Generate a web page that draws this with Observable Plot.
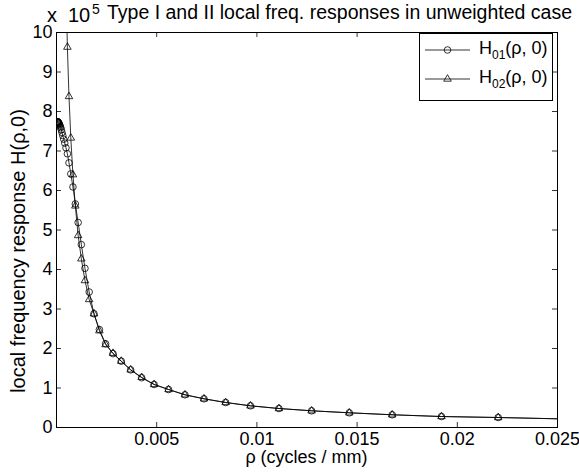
<!DOCTYPE html>
<html><head><meta charset="utf-8">
<script src="https://cdn.jsdelivr.net/npm/d3@7"></script>
<script src="https://cdn.jsdelivr.net/npm/@observablehq/plot@0.6"></script>
<style>
body{margin:0;background:#fff;}
#chart svg{font-family:"Liberation Sans",Arial,Helvetica,sans-serif;}
</style></head><body><div id="chart"></div>
<script>
// ---- data (values in units of 1e5) ----
const rho01 = [0.00003,0.000035,0.00004,0.000046,0.0000528,0.0000605,0.0000694,0.0000796,0.0000913,0.000105,0.00012,0.000138,0.000158,0.000181,0.000208,0.000238,0.000273,0.000314,0.00036,0.000413,0.000473,0.000543,0.000623,0.000714,0.00082,0.00094,0.00108,0.00124,0.00142,0.00163,0.00187,0.00214,0.00245,0.00282,0.00323,0.0037,0.00425,0.00487,0.00559,0.00641,0.00736,0.00844,0.00968,0.0111,0.01273,0.01461,0.01675,0.01921,0.02204];
const h01 = [7.74,7.74,7.74,7.74,7.74,7.73,7.73,7.73,7.72,7.71,7.70,7.68,7.66,7.63,7.59,7.54,7.47,7.39,7.30,7.20,7.08,6.93,6.70,6.42,6.09,5.66,5.19,4.63,4.03,3.43,2.88,2.48,2.12,1.87,1.68,1.46,1.26,1.09,0.962,0.828,0.727,0.633,0.549,0.481,0.423,0.372,0.322,0.278,0.253];
const rho02 = [0.000473,0.000543,0.000623,0.000714,0.00082,0.00094,0.00108,0.00124,0.00142,0.00163,0.00187,0.00214,0.00245,0.00282,0.00323,0.0037,0.00425,0.00487,0.00559,0.00641,0.00736,0.00844,0.00968,0.0111,0.01273,0.01461,0.01675,0.01921,0.02204];
const h02 = [11.3,9.63,8.38,7.33,6.40,5.61,4.86,4.27,3.72,3.24,2.88,2.45,2.10,1.88,1.68,1.46,1.27,1.09,0.962,0.828,0.727,0.633,0.549,0.481,0.423,0.372,0.322,0.278,0.253];
const tailRho = 0.025, tail01 = 0.22, tail02 = 0.22;
const xTicks = [0.005,0.01,0.015,0.02,0.025];
const xTickLabels = ["0.005","0.01","0.015","0.02","0.025"];
const yTicks = [0,1,2,3,4,5,6,7,8,9,10];
const titleText = "Type I and II local freq. responses in unweighted case";
const xLabel = "ρ (cycles / mm)";
const yLabel = "local frequency response H(ρ,0)";
const expParts = ["x", "10", "5"];
const series = [{name:"H", sub:"01", tail:"(ρ, 0)", symbol:"circle"},{name:"H", sub:"02", tail:"(ρ, 0)", symbol:"triangle"}];

const s01 = rho01.map((x,i)=>({x, y:h01[i]}));
const s02 = rho02.map((x,i)=>({x, y:h02[i]}));
const l01 = s01.concat([{x:tailRho, y:tail01}]);
const l02 = s02.concat([{x:tailRho, y:tail02}]);

const W=579,H=474, mL=56, mR=22, mT=32, mB=47;
const fw = W-mL-mR, fh = H-mT-mB;

const chart = Plot.plot({
  width:W, height:H, marginLeft:mL, marginRight:mR, marginTop:mT, marginBottom:mB,
  style:{fontSize:"18px", fontFamily:"Liberation Sans, Arial, sans-serif", background:"white", color:"black"},
  x:{domain:[0,0.025]},
  y:{domain:[0,10]},
  marks:[
    Plot.line(l02,{x:"x",y:"y",stroke:"black",strokeWidth:0.8,clip:true}),
    Plot.line(l01,{x:"x",y:"y",stroke:"black",strokeWidth:0.8,clip:true}),
    Plot.dot(s01,{x:"x",y:"y",r:3.3,stroke:"black",fill:"none",strokeWidth:0.8,clip:true}),
    Plot.dot(s02,{x:"x",y:"y",symbol:"triangle",r:2.8,stroke:"black",fill:"none",strokeWidth:0.8,clip:true}),
    Plot.tickX(xTicks,{x:d=>d,stroke:"black",strokeWidth:0.8,insetTop:fh-5}),
    Plot.tickX(xTicks,{x:d=>d,stroke:"black",strokeWidth:0.8,insetBottom:fh-5}),
    Plot.tickY(yTicks,{y:d=>d,stroke:"black",strokeWidth:0.8,insetRight:fw-5}),
    Plot.tickY(yTicks,{y:d=>d,stroke:"black",strokeWidth:0.8,insetLeft:fw-5}),
    Plot.axisX(xTicks,{anchor:"bottom",tickSize:0,tickPadding:5,tickFormat:(d,i)=>xTickLabels[i],label:null,fill:"black"}),
    Plot.axisY(yTicks,{anchor:"left",tickSize:0,tickPadding:4,tickFormat:d=>String(d),label:null,fill:"black"}),
    Plot.frame({stroke:"black",strokeWidth:1})
  ]
});
document.getElementById("chart").appendChild(chart);

const svg = d3.select(chart);
const g = svg.append("g").attr("fill","black").attr("text-anchor","start").style("font-family","Liberation Sans, Arial, sans-serif");
// title
g.append("text").attr("x",107).attr("y",18.5).attr("text-anchor","start").style("font-size","19.5px").text(titleText);
// exponent
const ex = g.append("text").attr("y",22).attr("text-anchor","start").style("font-size","20px");
ex.append("tspan").attr("x",47).text(expParts[0]);
ex.append("tspan").attr("x",68).text(expParts[1]);
ex.append("tspan").attr("x",92).attr("dy",-8).style("font-size","14px").text(expParts[2]);
// x label
g.append("text").attr("x",mL+fw/2).attr("y",463).attr("text-anchor","middle").style("font-size","18px").text(xLabel);
// y label
g.append("text").attr("transform",`translate(25,251) rotate(-90)`).attr("text-anchor","middle").style("font-size","20px").text(yLabel);
// legend
const lg = svg.append("g").attr("text-anchor","start");
lg.append("rect").attr("x",419.5).attr("y",33.5).attr("width",133).attr("height",67).attr("fill","white").attr("stroke","black").attr("stroke-width",1);
series.forEach((s,i)=>{
  const cy = 50 + i*29;
  lg.append("line").attr("x1",425).attr("x2",470).attr("y1",cy).attr("y2",cy).attr("stroke","black").attr("stroke-width",0.8);
  const sym = s.symbol==="circle" ? d3.symbolCircle : d3.symbolTriangle;
  const size = s.symbol==="circle" ? Math.PI*3.3*3.3 : Math.PI*2.8*2.8;
  lg.append("path").attr("transform",`translate(447.5,${cy})`).attr("d",d3.symbol(sym,size)()).attr("fill","none").attr("stroke","black").attr("stroke-width",0.8);
  const t = lg.append("text").attr("x",479).attr("y",cy+4).attr("fill","black").style("font-size","18px").style("font-family","Liberation Sans, Arial, sans-serif");
  t.append("tspan").text(s.name);
  t.append("tspan").attr("dy",5).style("font-size","12px").text(s.sub);
  t.append("tspan").attr("dy",-5).text(s.tail);
});
</script></body></html>
